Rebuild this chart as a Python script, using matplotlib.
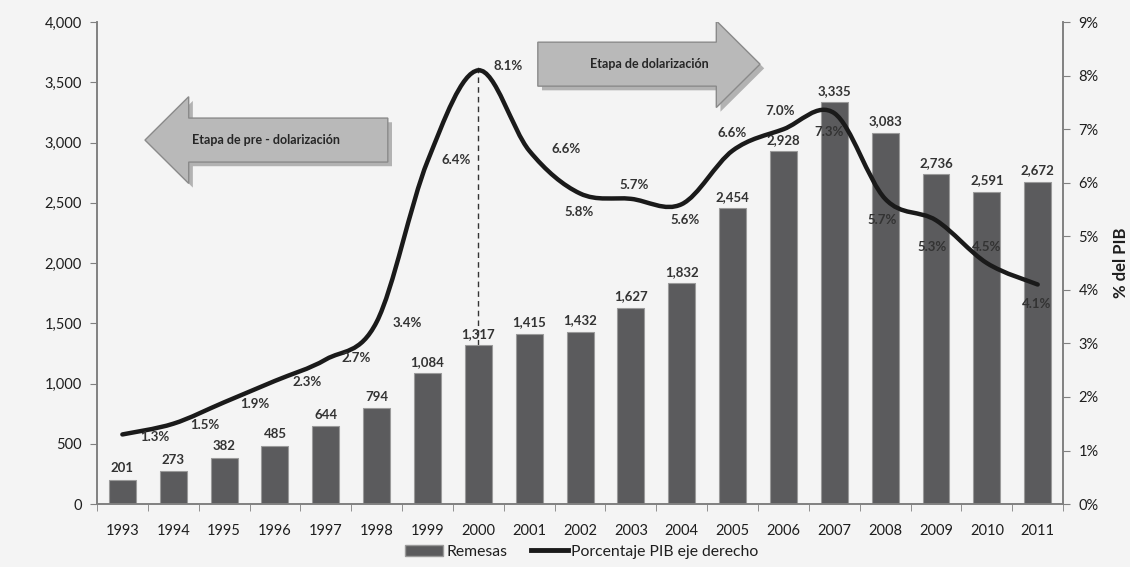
import matplotlib.pyplot as plt
import numpy as np
from matplotlib.path import Path
from matplotlib.patches import PathPatch, FancyArrow, Patch
from matplotlib.lines import Line2D
import matplotlib.patheffects as pe

plt.rcParams['font.family'] = ['Lato', 'DejaVu Sans']

years = [str(y) for y in range(1993, 2012)]
remesas = [201, 273, 382, 485, 644, 794, 1084, 1317, 1415, 1432, 1627, 1832,
           2454, 2928, 3335, 3083, 2736, 2591, 2672]
pct_pib = [1.3, 1.5, 1.9, 2.3, 2.7, 3.4, 6.4, 8.1, 6.6, 5.8, 5.7, 5.6,
           6.6, 7.0, 7.3, 5.7, 5.3, 4.5, 4.1]

# where each % label sits relative to its point (pixels, y up)
pct_offsets = [(32, -3), (32, -1), (31, -2), (32, -1), (30, 1), (31, -1),
               (29, 1), (30, 4), (37, 2), (-1, -19), (3, 14), (3, -16),
               (0, 18), (-3, 18), (-5, -19), (-3, -21), (-4, -27), (0, 16),
               (-1, -19)]

bar_color = '#5b5b5d'
spine_color = '#808080'
text_color = '#1e1e1e'

fig = plt.figure(figsize=(11.3, 5.67), dpi=100, facecolor='#f4f4f4')
ax = fig.add_axes([0.0858, 0.111, 0.855, 0.85])
ax.set_facecolor('none')
ax2 = ax.twinx()

x = np.arange(len(years))
bars = ax.bar(x, remesas, width=0.53, color=bar_color, edgecolor='#9a9a9a',
              linewidth=0.8, zorder=2)
for xi, v in zip(x, remesas):
    ax.annotate(f'{v:,}', (xi, v), xytext=(0, 4), textcoords='offset points',
                ha='center', va='bottom', fontsize=9.5, fontweight='bold',
                color='#333333')

ax.set_xlim(-0.5, len(years) - 0.5)
ax.set_ylim(0, 4000)
ax.set_yticks(np.arange(0, 4001, 500))
ax.set_yticklabels([f'{v:,}' for v in range(0, 4001, 500)])
ax.set_xticks(x)
ax.set_xticklabels(years)
ax.set_xticks(np.arange(-0.5, len(years)), minor=True)
ax.tick_params(axis='x', which='major', length=0, pad=14, labelsize=10.5,
               colors=text_color)
ax.tick_params(axis='x', which='minor', length=5, color=spine_color)
ax.tick_params(axis='y', length=5, color=spine_color, labelsize=10.5,
               labelcolor=text_color, pad=6)

ax2.set_ylim(0, 9)
ax2.set_yticks(range(0, 10))
ax2.set_yticklabels([f'{v}%' for v in range(0, 10)])
ax2.tick_params(axis='y', length=5, color=spine_color, labelsize=10.5,
                labelcolor=text_color, pad=6)
ax2.set_ylabel('% del PIB', fontsize=12, fontweight='bold', labelpad=10,
               color=text_color)

for a in (ax, ax2):
    a.spines['top'].set_visible(False)
    for s in ('left', 'right', 'bottom'):
        a.spines[s].set_color(spine_color)
        a.spines[s].set_linewidth(1.2)

# smoothed line (Catmull-Rom segments as cubic Bezier)
pts = np.column_stack([x, pct_pib]).astype(float)
ext = np.vstack([pts[0], pts, pts[-1]])
verts = [tuple(pts[0])]
codes = [Path.MOVETO]
for i in range(len(pts) - 1):
    p0, p1, p2, p3 = ext[i], ext[i + 1], ext[i + 2], ext[i + 3]
    c1 = p1 + (p2 - p0) / 6
    c2 = p2 - (p3 - p1) / 6
    verts += [tuple(c1), tuple(c2), tuple(p2)]
    codes += [Path.CURVE4] * 3
ax2.add_patch(PathPatch(Path(verts, codes), facecolor='none',
                        edgecolor='#1a1a1a', lw=3.2, zorder=3,
                        capstyle='round'))

for xi, v, off in zip(x, pct_pib, pct_offsets):
    ax2.annotate(f'{v:.1f}%', (xi, v), xytext=off, textcoords='offset pixels',
                 ha='center', va='center', fontsize=9.5, fontweight='bold',
                 color='#333333', zorder=4)

# dashed line marking dolarizacion (2000)
i2000 = years.index('2000')
ax.vlines(i2000, remesas[i2000], 3650, colors='#333333', linestyles=(0, (4, 3)),
          lw=1, zorder=1)

# stage arrows
arrow_kw = dict(width=365, head_width=720, head_length=0.86,
                length_includes_head=True, facecolor='#b9b9b9',
                edgecolor='#8a8a8a', lw=1, zorder=1,
                path_effects=[pe.SimplePatchShadow(offset=(3, -3), alpha=0.35),
                              pe.Normal()])
ax.add_patch(FancyArrow(5.22, 3021, 0.444 - 5.22, 0, **arrow_kw))
ax.add_patch(FancyArrow(8.17, 3651, 12.54 - 8.17, 0, **arrow_kw))
ax.text(2.82, 3021, 'Etapa de pre - dolarización', ha='center', va='center',
        fontsize=9, fontweight='bold', color='#262626', zorder=2)
ax.text(10.36, 3651, 'Etapa de dolarización', ha='center', va='center',
        fontsize=9, fontweight='bold', color='#262626', zorder=2)

handles = [Patch(facecolor=bar_color, edgecolor='#9a9a9a'),
           Line2D([], [], color='#1a1a1a', lw=3.5)]
fig.legend(handles, ['Remesas', 'Porcentaje PIB eje derecho'], loc='center',
           bbox_to_anchor=(0.515, 0.027), ncol=2, frameon=False, fontsize=11.3,
           handlelength=2.4, handletextpad=0.2, columnspacing=1.5,
           labelcolor=text_color)

fig.savefig('out.png', dpi=100, facecolor=fig.get_facecolor())
